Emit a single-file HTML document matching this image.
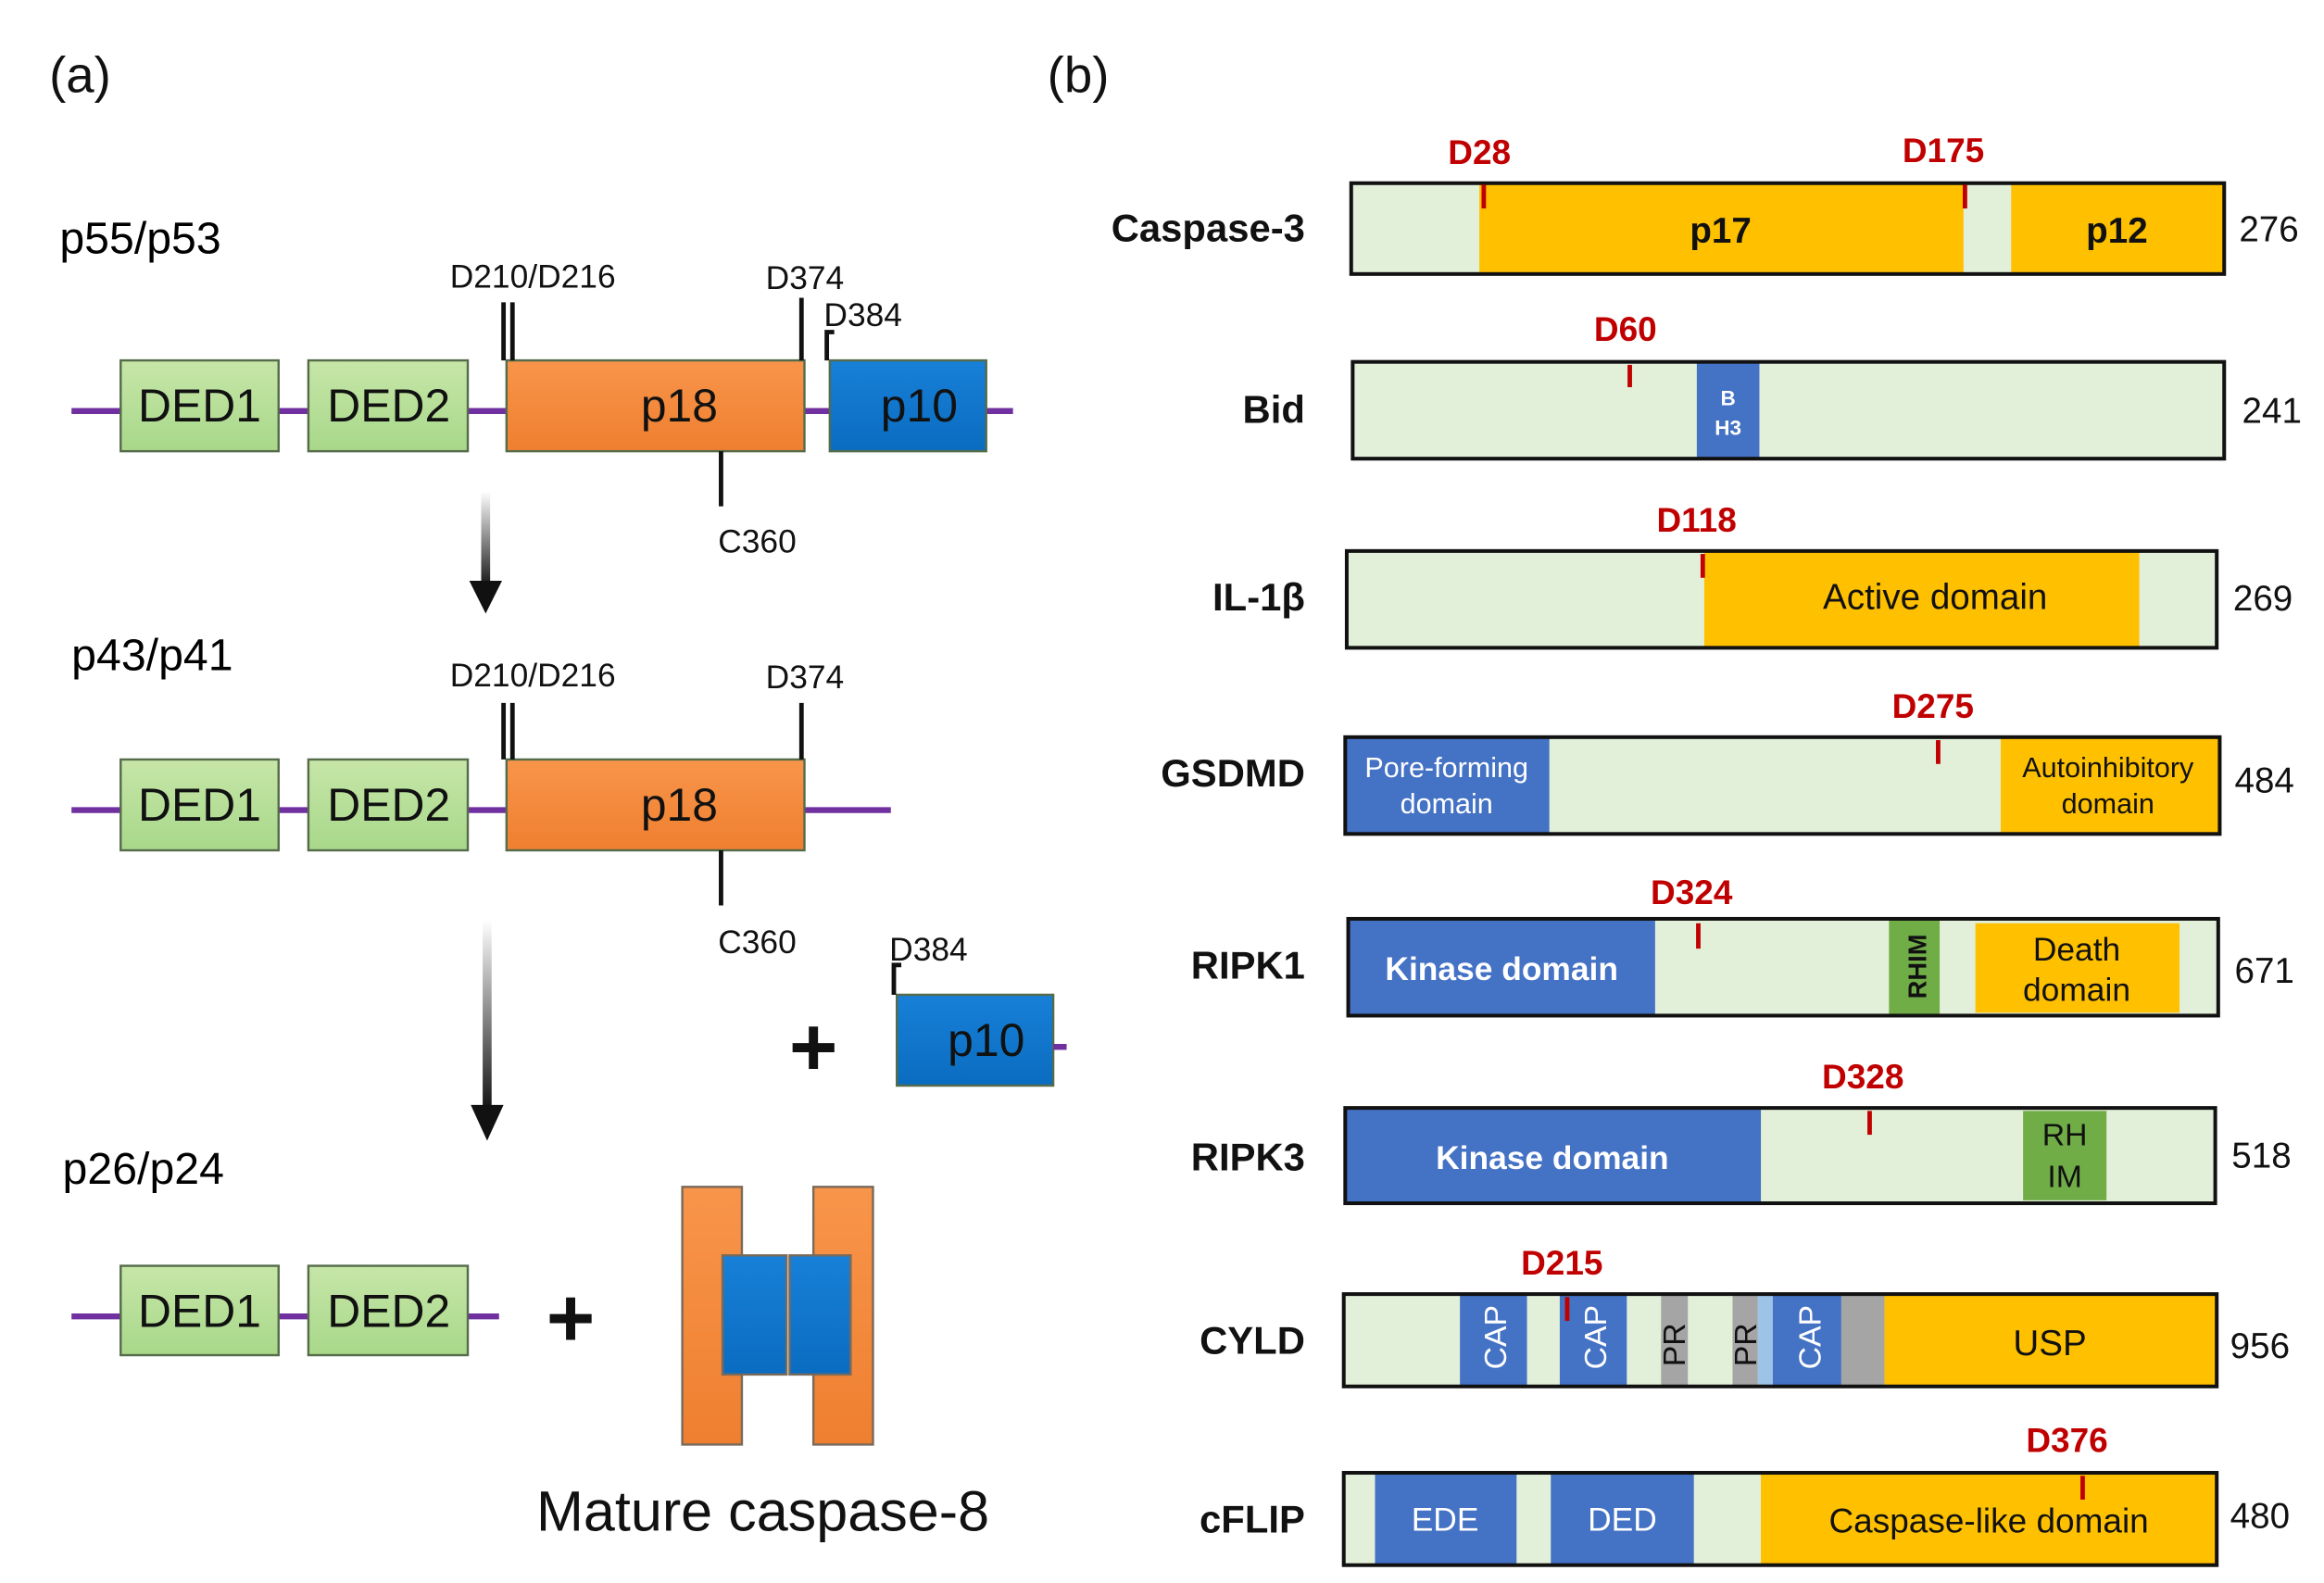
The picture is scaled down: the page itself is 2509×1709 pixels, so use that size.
<!DOCTYPE html>
<html><head><meta charset="utf-8"><style>
html,body{margin:0;padding:0;background:#fff;}
svg{display:block;}
text{font-family:"Liberation Sans",sans-serif;}
</style></head><body>
<svg width="2509" height="1709" viewBox="0 0 1560 1063" preserveAspectRatio="none" xmlns="http://www.w3.org/2000/svg">
<defs>
<linearGradient id="ag" x1="0" y1="0" x2="0" y2="1"><stop offset="0" stop-color="#fff"/><stop offset="1" stop-color="#111"/></linearGradient>
<linearGradient id="gr" x1="0" y1="0" x2="0" y2="1"><stop offset="0" stop-color="#c6e6a8"/><stop offset="1" stop-color="#a8d88a"/></linearGradient>
<linearGradient id="or" x1="0" y1="0" x2="0" y2="1"><stop offset="0" stop-color="#f8954a"/><stop offset="1" stop-color="#ef7f30"/></linearGradient>
<linearGradient id="bl" x1="0" y1="0" x2="0" y2="1"><stop offset="0" stop-color="#1880d8"/><stop offset="1" stop-color="#0a6cc0"/></linearGradient>
</defs>
<g font-size="34" fill="#111"><text x="33" y="62">(a)</text><text x="703" y="62">(b)</text></g>

<!-- Row 1 -->
<text x="40" y="170" font-size="30">p55/p53</text>
<line x1="48" y1="276" x2="680" y2="276" stroke="#7030a0" stroke-width="4"/>
<g stroke="#556b4a" stroke-width="1.5">
<rect x="81" y="242" width="106" height="61" fill="url(#gr)"/>
<rect x="207" y="242" width="107" height="61" fill="url(#gr)"/>
<rect x="340" y="242" width="200" height="61" fill="url(#or)"/>
<rect x="557" y="242" width="105" height="61" fill="url(#bl)"/>
</g>
<g font-size="31" text-anchor="middle" fill="#111"><text x="134" y="283">DED1</text><text x="261" y="283">DED2</text><text x="456" y="283">p18</text><text x="617" y="283">p10</text></g>
<g stroke="#111" stroke-width="3" fill="none">
<line x1="338" y1="203" x2="338" y2="242"/><line x1="344" y1="203" x2="344" y2="242"/>
<line x1="538" y1="200" x2="538" y2="242"/>
<polyline points="560,223 555,223 555,242"/>
<line x1="484" y1="303" x2="484" y2="340"/>
</g>
<g font-size="22" fill="#111"><text x="302" y="193">D210/D216</text><text x="514" y="194">D374</text><text x="553" y="219">D384</text><text x="482" y="371">C360</text></g>
<rect x="323" y="330" width="6" height="65" fill="url(#ag)"/>
<polygon points="315,390 337,390 326,412" fill="#111"/>

<!-- Row 2 -->
<text x="48" y="450" font-size="30">p43/p41</text>
<line x1="48" y1="544" x2="598" y2="544" stroke="#7030a0" stroke-width="4"/>
<g stroke="#556b4a" stroke-width="1.5">
<rect x="81" y="510" width="106" height="61" fill="url(#gr)"/>
<rect x="207" y="510" width="107" height="61" fill="url(#gr)"/>
<rect x="340" y="510" width="200" height="61" fill="url(#or)"/>
<rect x="602" y="668" width="105" height="61" fill="url(#bl)"/>
</g>
<line x1="707" y1="703" x2="716" y2="703" stroke="#7030a0" stroke-width="4"/>
<g font-size="31" text-anchor="middle" fill="#111"><text x="134" y="551">DED1</text><text x="261" y="551">DED2</text><text x="456" y="551">p18</text><text x="662" y="709">p10</text></g>
<g stroke="#111" stroke-width="3" fill="none">
<line x1="338" y1="472" x2="338" y2="510"/><line x1="344" y1="472" x2="344" y2="510"/>
<line x1="538" y1="472" x2="538" y2="510"/>
<polyline points="605,648 600,648 600,668"/>
<line x1="484" y1="571" x2="484" y2="608"/>
</g>
<g font-size="22" fill="#111"><text x="302" y="461">D210/D216</text><text x="514" y="462">D374</text><text x="597" y="645">D384</text><text x="482" y="640">C360</text></g>
<text x="546" y="722" font-size="56" font-weight="bold" text-anchor="middle" fill="#111">+</text>
<rect x="324" y="618" width="6" height="128" fill="url(#ag)"/>
<polygon points="316,742 338,742 327,766" fill="#111"/>

<!-- Row 3 -->
<text x="42" y="795" font-size="30">p26/p24</text>
<line x1="48" y1="884" x2="335" y2="884" stroke="#7030a0" stroke-width="4"/>
<g stroke="#556b4a" stroke-width="1.5">
<rect x="81" y="850" width="106" height="60" fill="url(#gr)"/>
<rect x="207" y="850" width="107" height="60" fill="url(#gr)"/>
</g>
<g font-size="31" text-anchor="middle" fill="#111"><text x="134" y="891">DED1</text><text x="261" y="891">DED2</text></g>
<text x="383" y="904" font-size="56" font-weight="bold" text-anchor="middle" fill="#111">+</text>
<g stroke="#7a6a5a" stroke-width="1.5">
<rect x="458" y="797" width="40" height="173" fill="url(#or)"/>
<rect x="546" y="797" width="40" height="173" fill="url(#or)"/>
<rect x="485" y="843" width="43" height="80" fill="url(#bl)"/>
<rect x="530" y="843" width="41" height="80" fill="url(#bl)"/>
</g>
<text x="360" y="1028" font-size="38" fill="#111">Mature caspase-8</text>

<!-- (b) -->
<g font-size="26" font-weight="bold" text-anchor="end" fill="#111">
<text x="876" y="162">Caspase-3</text><text x="876" y="284">Bid</text><text x="876" y="410">IL-1β</text><text x="876" y="528">GSDMD</text><text x="876" y="657">RIPK1</text><text x="876" y="786">RIPK3</text><text x="876" y="909">CYLD</text><text x="876" y="1029">cFLIP</text>
</g>
<g font-size="24" fill="#111">
<text x="1503" y="162">276</text><text x="1505" y="284">241</text><text x="1499" y="410">269</text><text x="1500" y="532">484</text><text x="1500" y="660">671</text><text x="1498" y="784">518</text><text x="1497" y="912">956</text><text x="1497" y="1026">480</text>
</g>
<g font-size="23" font-weight="bold" fill="#c00000">
<text x="972" y="110">D28</text><text x="1277" y="109">D175</text><text x="1070" y="229">D60</text><text x="1112" y="357">D118</text><text x="1270" y="482">D275</text><text x="1108" y="607">D324</text><text x="1223" y="731">D328</text><text x="1021" y="856">D215</text><text x="1360" y="975">D376</text>
</g>

<!-- Caspase-3 -->
<rect x="907" y="123" width="586" height="61" fill="#e2efd9"/>
<rect x="993" y="123" width="325" height="61" fill="#ffc000"/>
<rect x="1350" y="123" width="143" height="61" fill="#ffc000"/>
<rect x="907" y="123" width="586" height="61" fill="none" stroke="#111" stroke-width="2.5"/>
<g font-size="24" font-weight="bold" text-anchor="middle" fill="#111"><text x="1155" y="163">p17</text><text x="1421" y="163">p12</text></g>

<!-- Bid -->
<rect x="908" y="243" width="585" height="65" fill="#e2efd9"/>
<rect x="1139" y="243" width="42" height="65" fill="#4472c4"/>
<rect x="908" y="243" width="585" height="65" fill="none" stroke="#111" stroke-width="2.5"/>
<g font-size="14" font-weight="bold" text-anchor="middle" fill="#fff"><text x="1160" y="272">B</text><text x="1160" y="292">H3</text></g>

<!-- IL-1b -->
<rect x="904" y="370" width="584" height="65" fill="#e2efd9"/>
<rect x="1144" y="370" width="292" height="65" fill="#ffc000"/>
<rect x="904" y="370" width="584" height="65" fill="none" stroke="#111" stroke-width="2.5"/>
<text x="1299" y="409" font-size="24" text-anchor="middle" fill="#111">Active domain</text>

<!-- GSDMD -->
<rect x="903" y="495" width="587" height="65" fill="#e2efd9"/>
<rect x="903" y="495" width="137" height="65" fill="#4472c4"/>
<rect x="1343" y="495" width="147" height="65" fill="#ffc000"/>
<rect x="903" y="495" width="587" height="65" fill="none" stroke="#111" stroke-width="2.5"/>
<g font-size="19" text-anchor="middle"><text x="971" y="522" fill="#fff">Pore-forming</text><text x="971" y="546" fill="#fff">domain</text><text x="1415" y="522" fill="#111">Autoinhibitory</text><text x="1415" y="546" fill="#111">domain</text></g>

<!-- RIPK1 -->
<rect x="905" y="617" width="584" height="65" fill="#e2efd9"/>
<rect x="905" y="617" width="206" height="65" fill="#4472c4"/>
<rect x="1268" y="617" width="34" height="65" fill="#70ad47"/>
<rect x="1326" y="620" width="137" height="60" fill="#ffc000"/>
<rect x="905" y="617" width="584" height="65" fill="none" stroke="#111" stroke-width="2.5"/>
<text x="1008" y="658" font-size="22" font-weight="bold" text-anchor="middle" fill="#fff">Kinase domain</text>
<text transform="translate(1293,649) rotate(-90)" font-size="17" font-weight="bold" text-anchor="middle" fill="#111">RHIM</text>
<g font-size="22" text-anchor="middle" fill="#111"><text x="1394" y="645">Death</text><text x="1394" y="672">domain</text></g>

<!-- RIPK3 -->
<rect x="903" y="744" width="584" height="64" fill="#e2efd9"/>
<rect x="903" y="744" width="279" height="64" fill="#4472c4"/>
<rect x="1358" y="746" width="56" height="60" fill="#70ad47"/>
<rect x="903" y="744" width="584" height="64" fill="none" stroke="#111" stroke-width="2.5"/>
<text x="1042" y="785" font-size="22" font-weight="bold" text-anchor="middle" fill="#fff">Kinase domain</text>
<g font-size="21" text-anchor="middle" fill="#111"><text x="1386" y="769">RH</text><text x="1386" y="797">IM</text></g>

<!-- CYLD -->
<rect x="902" y="869" width="586" height="62" fill="#e2efd9"/>
<rect x="980" y="869" width="45" height="62" fill="#4472c4"/>
<rect x="1047" y="869" width="45" height="62" fill="#4472c4"/>
<rect x="1115" y="869" width="18" height="62" fill="#a5a5a5"/>
<rect x="1163" y="869" width="17" height="62" fill="#a5a5a5"/>
<rect x="1180" y="869" width="10" height="62" fill="#9dc3e6"/>
<rect x="1190" y="869" width="46" height="62" fill="#4472c4"/>
<rect x="1236" y="869" width="29" height="62" fill="#a5a5a5"/>
<rect x="1265" y="869" width="223" height="62" fill="#ffc000"/>
<rect x="902" y="869" width="586" height="62" fill="none" stroke="#111" stroke-width="2.5"/>
<g font-size="21" text-anchor="middle" fill="#fff">
<text transform="translate(1011,898) rotate(-90)" dy="0">CAP</text>
<text transform="translate(1078,898) rotate(-90)">CAP</text>
<text transform="translate(1222,898) rotate(-90)">CAP</text>
</g>
<g font-size="21" text-anchor="middle" fill="#111">
<text transform="translate(1131,903) rotate(-90)">PR</text>
<text transform="translate(1179,903) rotate(-90)">PR</text>
</g>
<text x="1376" y="910" font-size="24" text-anchor="middle" fill="#111">USP</text>

<!-- cFLIP -->
<rect x="902" y="989" width="586" height="62" fill="#e2efd9"/>
<rect x="923" y="989" width="95" height="62" fill="#4472c4"/>
<rect x="1041" y="989" width="96" height="62" fill="#4472c4"/>
<rect x="1182" y="989" width="306" height="62" fill="#ffc000"/>
<rect x="902" y="989" width="586" height="62" fill="none" stroke="#111" stroke-width="2.5"/>
<g font-size="22" text-anchor="middle" fill="#fff"><text x="970" y="1028">EDE</text><text x="1089" y="1028">DED</text></g>
<text x="1335" y="1029" font-size="23" text-anchor="middle" fill="#111">Caspase-like domain</text>

<!-- red ticks -->
<g stroke="#c00000" stroke-width="3">
<line x1="996" y1="124" x2="996" y2="140"/><line x1="1319" y1="124" x2="1319" y2="140"/>
<line x1="1094" y1="245" x2="1094" y2="260"/>
<line x1="1143" y1="372" x2="1143" y2="388"/>
<line x1="1301" y1="497" x2="1301" y2="513"/>
<line x1="1140" y1="620" x2="1140" y2="637"/>
<line x1="1255" y1="746" x2="1255" y2="762"/>
<line x1="1052" y1="871" x2="1052" y2="887"/>
<line x1="1398" y1="991" x2="1398" y2="1007"/>
</g>
</svg>
</body></html>
